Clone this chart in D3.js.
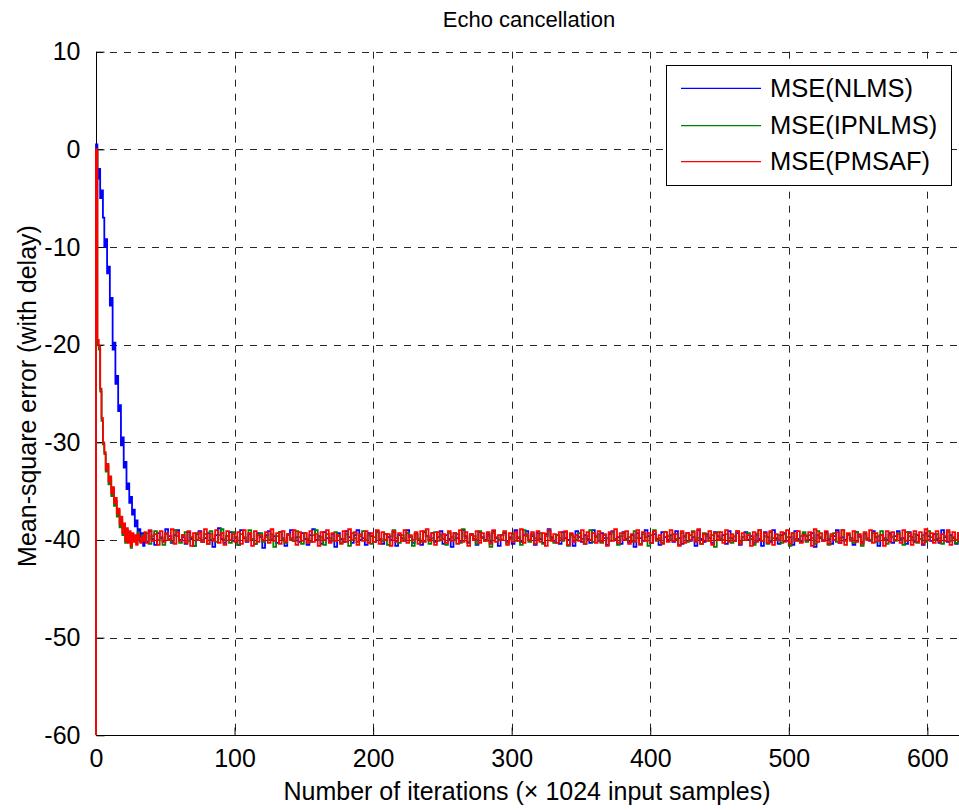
<!DOCTYPE html>
<html lang="en">
  <head>
    <meta charset="UTF-8" />
    <title>Echo cancellation</title>
    <style>
      body { margin: 0; background: #fff; }
      svg text { font-family: "Liberation Sans", Arial, sans-serif; fill: #000; }
    </style>
  </head>
  <body>
    <div id="chart">
      <svg width="959" height="810"></svg>
    </div>
    <script src="https://d3js.org/d3.v7.min.js"></script>
    <script>
      // series names (legend order)
      var seriesNames = ["MSE(NLMS)", "MSE(IPNLMS)", "MSE(PMSAF)"];
      var seriesColors = ["#0000ff", "#008000", "#ff0000"];

      var xTicks = [0, 100, 200, 300, 400, 500, 600];
      var yTicks = [-60, -50, -40, -30, -20, -10, 0, 10];

      // iterations 0..35, one value per iteration (dB)
      var nlmsHead = [-60, 0.5, -3, -2, -5, -4.2, -7, -10, -9.2, -12.7, -12, -16, -15.2, -20.5, -19.8, -24, -23.2, -26.8,
        -26.2, -30.3, -29.5, -32.6, -32, -34.8, -34.2, -36.2, -35.6, -37.4, -36.9, -38.6, -38, -39.6, -38.9, -40.2, -39.3, -40.6];
      var ipnlmsHead = [-60, 0, -20, -20.5, -24.8, -27.8, -30.2, -31.2, -33, -32.4, -34.3, -33.8, -35.5, -34.9, -36.5, -36, -37.6, -37,
        -38.7, -37.9, -39.5, -38.5, -40.3, -39, -40.2, -39.3, -40.8, -39.4, -40.1, -39.6, -40.4, -39.2, -39.8, -40.2, -39.5, -40.0];
      var pmsafHead = [-60, 0, -19.5, -20.2, -24.5, -27.5, -30, -31, -32.8, -32.2, -34, -33.5, -35.2, -34.6, -36.2, -35.7, -37.3, -36.8,
        -38.4, -37.6, -39.3, -38.3, -40.1, -38.8, -40.3, -39.1, -40.6, -39.3, -40.2, -39.5, -40.5, -39.4, -39.9, -40.3, -39.6, -40.1];

      // steady state, iterations 36, 38, ..., 624
      var nlmsTail = [
        -39.4,-40.2,-39.1,-39.9,-40.5,-39.3,-39.8,-40.1,-38.9,-39.6,-40.3,-39.5,-39.0,-40.0,-39.7,
        -40.4,-39.2,-39.9,-40.6,-39.4,-39.1,-40.2,-39.8,-39.3,-40.0,-40.7,-39.5,-38.8,-39.9,-40.3,
        -39.6,-39.2,-40.1,-39.7,-40.5,-39.0,-39.8,-40.2,-39.4,-39.9,-40.4,-39.3,-39.7,-40.8,-39.5,
        -39.1,-40.0,-39.6,-40.3,-39.2,-39.8,-40.6,-39.4,-39.0,-40.1,-39.7,-40.2,-39.3,-39.9,-40.5,
        -39.5,-38.9,-40.0,-39.6,-40.4,-39.2,-39.8,-40.1,-39.4,-40.7,-39.3,-39.9,-40.2,-39.1,-39.7,
        -40.3,-39.5,-39.0,-40.0,-39.8,-40.5,-39.3,-39.6,-40.2,-39.1,-39.9,-40.4,-39.4,-39.7,-40.0,
        -39.2,-40.6,-39.5,-39.8,-40.1,-39.0,-39.7,-40.3,-39.4,-39.9,-40.5,-39.2,-39.6,-40.0,-39.3,
        -40.2,-39.7,-39.1,-40.4,-39.5,-39.9,-40.7,-39.3,-39.8,-40.1,-39.0,-39.6,-40.3,-39.4,-39.9,
        -40.5,-39.2,-39.7,-40.0,-39.4,-40.2,-39.1,-39.8,-40.6,-39.5,-39.3,-40.1,-39.7,-40.4,-39.0,
        -39.8,-40.2,-39.5,-39.1,-40.0,-39.6,-40.5,-39.3,-39.9,-40.3,-39.4,-38.9,-39.7,-40.1,-39.5,
        -40.4,-39.2,-39.8,-40.0,-39.4,-40.6,-39.1,-39.7,-40.2,-39.5,-39.9,-40.3,-39.0,-39.6,-40.1,
        -39.3,-39.8,-40.5,-39.4,-39.1,-40.0,-39.7,-40.4,-39.2,-39.9,-40.2,-39.5,-40.7,-39.3,-39.8,
        -40.1,-39.0,-39.6,-40.3,-39.4,-39.9,-40.5,-39.2,-39.7,-40.0,-39.5,-40.2,-39.1,-39.8,-40.4,
        -39.6,-39.3,-40.1,-39.7,-40.6,-39.0,-39.9,-40.2,-39.4,-39.8,-40.3,-39.2,-39.6,-40.0,-39.5,
        -40.4,-39.1,-39.8,-40.1,-39.3,-40.5,-39.7,-39.2,-40.0,-39.6,-40.3,-39.4,-39.9,-40.6,-39.2,
        -39.7,-40.2,-39.0,-39.8,-40.4,-39.5,-39.3,-40.1,-39.7,-40.5,-39.1,-39.9,-40.2,-39.4,-39.6,
        -40.0,-39.3,-40.7,-39.5,-39.8,-40.1,-39.2,-39.9,-40.4,-39.6,-39.0,-40.3,-39.7,-40.0,-39.4,
        -39.8,-40.5,-39.2,-39.6,-40.2,-39.4,-39.9,-40.1,-39.1,-39.7,-40.6,-39.5,-39.8,-40.0,-39.3,
        -40.3,-39.6,-39.1,-40.0,-39.8,-40.4,-39.2,-39.7,-40.2,-39.5,-39.9,-40.5,-39.3,-39.6,-40.1,
        -39.4,-39.9,-40.3,-39.0,-39.7,-40.2,-39.5,-39.8,-40.4,-39.3];
      var ipnlmsTail = [
        -39.8,-39.3,-40.4,-39.6,-39.1,-40.0,-39.7,-40.5,-39.4,-39.9,-40.2,-39.0,-39.6,-40.3,-39.5,
        -39.2,-40.1,-39.7,-40.6,-39.3,-39.8,-40.0,-39.4,-40.4,-39.1,-39.9,-40.2,-39.5,-38.9,-40.0,
        -39.6,-40.3,-39.2,-39.8,-40.5,-39.4,-39.7,-40.1,-39.0,-39.9,-40.4,-39.5,-39.3,-40.2,-39.7,
        -40.0,-39.4,-40.7,-39.6,-39.2,-39.9,-40.3,-39.5,-39.8,-40.1,-39.1,-39.7,-40.4,-39.3,-39.9,
        -40.2,-39.5,-39.0,-40.0,-39.7,-40.5,-39.4,-39.8,-40.1,-39.2,-39.6,-40.3,-39.9,-39.4,-40.6,
        -39.3,-39.8,-40.2,-39.6,-39.1,-40.0,-39.5,-40.4,-39.7,-39.2,-39.9,-40.1,-39.4,-40.5,-39.6,
        -39.0,-39.8,-40.3,-39.5,-40.0,-39.3,-39.7,-40.6,-39.4,-39.9,-40.2,-39.1,-39.6,-40.4,-39.8,
        -39.2,-40.1,-39.5,-39.9,-40.5,-39.3,-39.7,-40.0,-39.4,-40.3,-38.9,-39.8,-40.2,-39.5,-39.6,
        -40.4,-39.1,-39.8,-40.1,-39.6,-40.7,-39.3,-39.7,-40.0,-39.5,-39.2,-40.3,-39.9,-39.4,-40.1,
        -39.7,-40.5,-39.0,-39.6,-40.2,-39.4,-39.8,-40.0,-39.3,-40.4,-39.6,-39.1,-39.9,-40.3,-39.5,
        -39.8,-40.1,-39.2,-40.6,-39.5,-39.7,-40.0,-39.3,-39.9,-40.4,-39.6,-39.0,-40.2,-39.7,-39.4,
        -40.3,-39.5,-39.8,-40.1,-39.2,-39.9,-40.5,-39.6,-39.3,-40.0,-39.7,-40.2,-39.1,-39.8,-40.4,
        -39.4,-39.7,-40.6,-39.5,-39.0,-40.1,-39.8,-40.3,-39.2,-39.6,-40.0,-39.4,-39.9,-40.5,-39.3,
        -39.7,-40.2,-39.5,-39.1,-40.0,-39.8,-40.4,-39.3,-39.6,-40.1,-39.5,-40.7,-39.2,-39.9,-40.0,
        -39.4,-39.8,-40.3,-39.6,-39.1,-40.2,-39.7,-40.0,-39.3,-39.9,-40.5,-39.5,-39.0,-40.1,-39.6,
        -40.4,-39.2,-39.8,-40.0,-39.5,-40.3,-39.4,-39.7,-40.6,-39.3,-39.9,-40.1,-39.6,-39.2,-40.2,
        -39.5,-39.8,-40.4,-39.1,-39.7,-40.0,-39.4,-40.5,-39.6,-39.3,-40.2,-39.8,-39.0,-40.1,-39.5,
        -39.9,-40.3,-39.2,-39.7,-40.6,-39.4,-39.8,-40.0,-39.3,-40.2,-39.6,-39.1,-39.9,-40.4,-39.5,
        -39.7,-40.1,-39.3,-39.8,-40.5,-39.2,-39.6,-40.0,-39.4,-40.3,-39.9,-39.5,-40.2,-39.1,-39.7,
        -40.0,-39.4,-39.8,-40.4,-39.6,-39.2,-40.1,-39.7,-40.3,-39.5];
      var pmsafTail = [
        -39.2,-40.3,-39.0,-40.1,-39.4,-40.5,-39.1,-40.2,-39.3,-40.0,-38.9,-40.4,-39.2,-40.1,-39.5,
        -40.3,-39.1,-40.6,-39.3,-40.0,-39.2,-40.2,-38.9,-40.4,-39.4,-40.1,-39.0,-40.3,-39.3,-40.5,
        -39.1,-40.0,-39.4,-40.2,-39.2,-40.4,-39.0,-40.1,-39.3,-40.6,-39.1,-40.2,-39.5,-40.0,-39.2,
        -40.3,-38.9,-40.1,-39.3,-40.4,-39.1,-40.2,-39.4,-40.0,-39.0,-40.5,-39.2,-40.1,-39.3,-40.3,
        -39.1,-40.2,-39.4,-40.6,-39.2,-40.0,-39.0,-40.3,-39.3,-40.1,-39.5,-40.4,-39.1,-40.2,-38.9,
        -40.0,-39.2,-40.5,-39.4,-40.1,-39.1,-40.3,-39.3,-40.2,-39.0,-40.4,-39.2,-40.0,-39.4,-40.6,
        -39.1,-40.2,-39.3,-40.1,-39.0,-40.3,-39.5,-40.0,-39.2,-40.4,-39.1,-40.2,-38.9,-40.1,-39.3,
        -40.5,-39.2,-40.0,-39.4,-40.3,-39.1,-40.1,-39.3,-40.4,-39.0,-40.2,-39.2,-40.6,-39.4,-40.0,
        -39.1,-40.3,-39.3,-40.1,-39.2,-40.4,-39.0,-40.2,-39.5,-40.0,-39.1,-40.5,-39.3,-40.2,-39.2,
        -40.1,-38.9,-40.3,-39.4,-40.0,-39.2,-40.4,-39.1,-40.2,-39.3,-40.6,-39.0,-40.1,-39.4,-40.3,
        -39.2,-40.0,-39.1,-40.5,-39.3,-40.2,-39.5,-40.1,-39.0,-40.4,-39.2,-40.0,-39.3,-40.3,-39.1,
        -40.2,-39.4,-40.6,-39.2,-40.1,-38.9,-40.3,-39.3,-40.0,-39.1,-40.4,-39.4,-40.2,-39.0,-40.5,
        -39.2,-40.1,-39.3,-40.3,-39.1,-40.0,-39.5,-40.4,-39.2,-40.2,-39.0,-40.1,-39.4,-40.6,-39.1,
        -40.3,-39.3,-40.0,-39.2,-40.2,-38.9,-40.4,-39.4,-40.1,-39.1,-40.5,-39.3,-40.0,-39.2,-40.3,
        -39.0,-40.2,-39.4,-40.1,-39.1,-40.4,-39.3,-40.0,-39.5,-40.6,-39.2,-40.2,-39.0,-40.1,-39.3,
        -40.3,-39.1,-40.5,-39.4,-40.0,-39.2,-40.2,-39.0,-40.4,-39.3,-40.1,-39.1,-40.3,-39.5,-40.0,
        -39.2,-40.6,-38.9,-40.2,-39.3,-40.1,-39.1,-40.4,-39.4,-40.0,-39.2,-40.3,-39.0,-40.5,-39.3,
        -40.1,-39.1,-40.2,-39.4,-40.4,-39.2,-40.0,-39.0,-40.3,-39.3,-40.1,-39.5,-40.6,-39.1,-40.2,
        -39.2,-40.0,-39.4,-40.3,-39.0,-40.1,-39.3,-40.5,-39.1,-40.2,-39.2,-40.4,-38.9,-40.0,-39.3,
        -40.3,-39.1,-40.2,-39.4,-40.1,-39.0,-40.5,-39.2,-40.0,-39.3];

      var headIters = d3.range(0, 36);
      var tailIters = d3.range(36, 625, 2);

      function toPoints(head, tail) {
        var pts = head.map(function (v, i) { return { it: headIters[i], v: v }; });
        tail.forEach(function (v, i) {
          if (tailIters[i] !== undefined) pts.push({ it: tailIters[i], v: v });
        });
        return pts;
      }

      var series = [
        toPoints(nlmsHead, nlmsTail),
        toPoints(ipnlmsHead, ipnlmsTail),
        toPoints(pmsafHead, pmsafTail),
      ];

      var svg = d3.select("#chart>svg");
      svg.append("rect").attr("width", 959).attr("height", 810).attr("fill", "#fff");

      var plotL = 96, plotR = 962, plotT = 51.7, plotB = 735.3;
      var x = d3.scaleLinear().domain([0, 625]).range([plotL, plotR]);
      var y = d3.scaleLinear().domain([-60, 10]).range([plotB, plotT]);

      var gridDash = "7,7";

      // grid
      var grid = svg.append("g").attr("stroke", "#262626").attr("stroke-width", 1).attr("stroke-dasharray", gridDash);
      grid.selectAll("line.gy").data(yTicks.filter(function (d) { return d > -60; }))
        .enter().append("line")
        .attr("x1", plotL).attr("x2", plotR)
        .attr("y1", function (d) { return Math.round(y(d)) + 0.5; })
        .attr("y2", function (d) { return Math.round(y(d)) + 0.5; });
      grid.selectAll("line.gx").data(xTicks.filter(function (d) { return d > 0; }))
        .enter().append("line")
        .attr("y1", plotT).attr("y2", plotB)
        .attr("x1", function (d) { return Math.round(x(d)) + 0.5; })
        .attr("x2", function (d) { return Math.round(x(d)) + 0.5; });

      // axes (box off: left + bottom only, ticks inward)
      var plain = function (d) { return String(d); };
      var yAxis = d3.axisLeft(y).tickValues(yTicks).tickSize(-8).tickPadding(16).tickFormat(plain);
      var xAxis = d3.axisBottom(x).tickValues(xTicks).tickSize(-8).tickPadding(14).tickFormat(plain);

      var gy = svg.append("g").attr("transform", "translate(" + (plotL + 0.5) + ",0)").call(yAxis);
      var gx = svg.append("g").attr("transform", "translate(0," + (Math.round(plotB) + 0.5) + ")").call(xAxis);
      [gx, gy].forEach(function (g) {
        g.select(".domain").attr("stroke", "#000").attr("stroke-width", 1);
        g.selectAll(".tick line").attr("stroke", "#000");
        g.selectAll(".tick text").attr("font-size", 25).attr("font-family", "Liberation Sans, Arial, sans-serif").attr("fill", "#000");
      });
      gx.select(".domain").attr("d", "M" + plotL + ",0H" + plotR);
      gy.select(".domain").attr("d", "M0," + plotT + "V" + plotB);

      // data
      svg.append("clipPath").attr("id", "plotClip")
        .append("rect").attr("x", plotL - 1).attr("y", plotT).attr("width", plotR - plotL + 1).attr("height", plotB - plotT);

      var line = d3.line()
        .curve(d3.curveStepBefore)
        .x(function (d) { return x(d.it); })
        .y(function (d) { return y(d.v); });

      svg.append("g").attr("clip-path", "url(#plotClip)")
        .selectAll("path").data(series).enter().append("path")
        .attr("fill", "none")
        .attr("stroke", function (d, i) { return seriesColors[i]; })
        .attr("stroke-width", 1.8)
        .attr("d", line);

      // title and labels
      svg.append("text").attr("x", (plotL + plotR) / 2).attr("y", 27)
        .attr("text-anchor", "middle").attr("font-size", 22)
        .text("Echo cancellation");

      svg.append("text").attr("x", 527).attr("y", 800)
        .attr("text-anchor", "middle").attr("font-size", 25)
        .text("Number of iterations (\u00d7 1024 input samples)");

      svg.append("text").attr("transform", "translate(36," + 396 + ") rotate(-90)")
        .attr("text-anchor", "middle").attr("font-size", 25)
        .text("Mean-square error (with delay)");

      // legend
      var legend = svg.append("g");
      legend.append("rect").attr("x", 666.5).attr("y", 65.5).attr("width", 285).attr("height", 120)
        .attr("fill", "#fff").attr("stroke", "#000").attr("stroke-width", 1);
      var rowY = [88.3, 125.7, 161.7];
      seriesNames.forEach(function (name, i) {
        legend.append("line").attr("x1", 681).attr("x2", 761)
          .attr("y1", rowY[i]).attr("y2", rowY[i])
          .attr("stroke", seriesColors[i]).attr("stroke-width", 1.3);
        legend.append("text").attr("x", 770).attr("y", rowY[i] + 8.7)
          .attr("font-size", 25.5).text(name);
      });
    </script>
  </body>
</html>
